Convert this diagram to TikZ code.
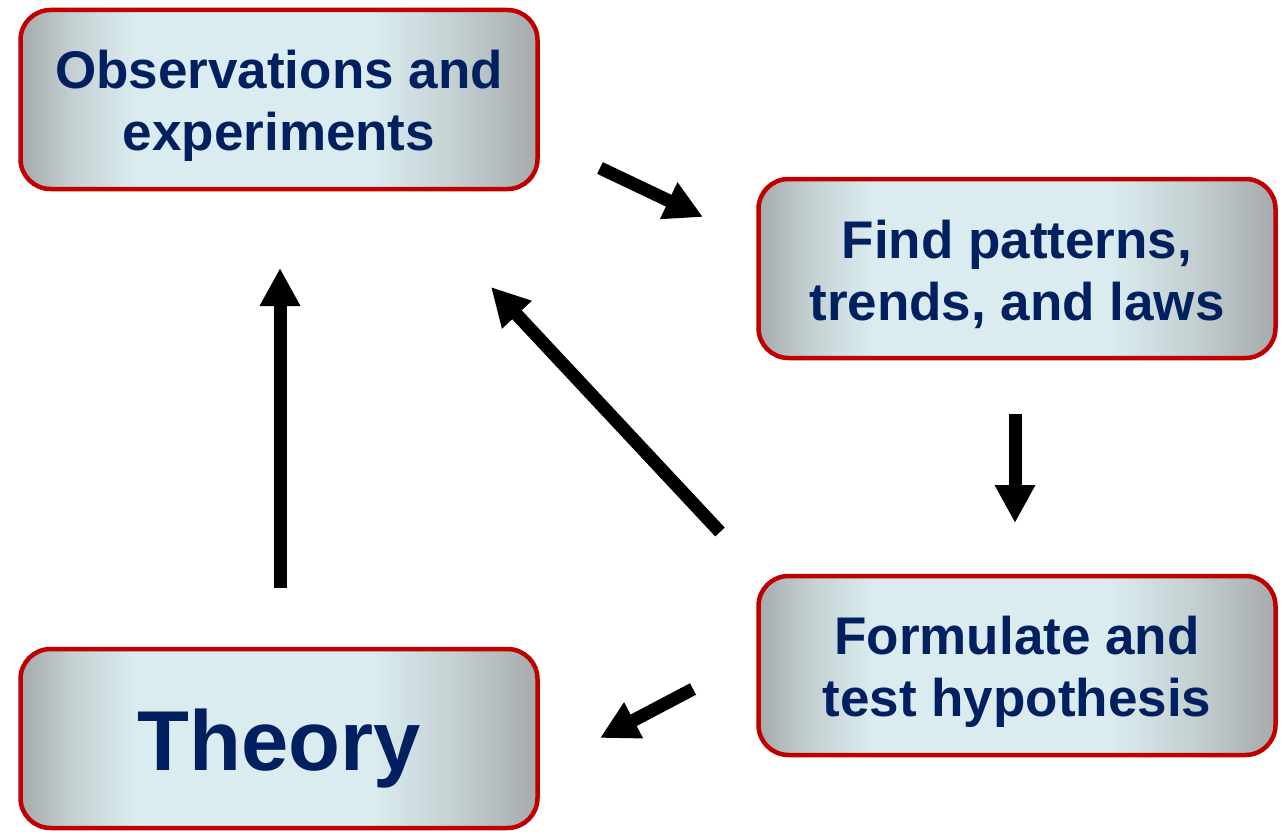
\documentclass[tikz,border=0pt]{standalone}
\usepackage{fontspec}
\setmainfont{Liberation Sans}
\usetikzlibrary{arrows.meta}
\definecolor{boxgray}{HTML}{A6AAAC}
\definecolor{boxmid}{HTML}{C4D0D2}
\definecolor{boxcyan}{HTML}{DAECEF}
\definecolor{boxred}{HTML}{C00000}
\definecolor{navy}{HTML}{002060}
\pgfdeclarehorizontalshading{boxshade}{100bp}{color(0bp)=(boxgray); color(25bp)=(boxgray); color(30bp)=(boxmid); color(36bp)=(boxcyan); color(59bp)=(boxcyan); color(67bp)=(boxmid); color(75bp)=(boxgray); color(100bp)=(boxgray)}
\tikzset{
  stepbox/.style={draw=boxred, line width=4.5pt, rounded corners=30pt, shading=boxshade,
    minimum width=517pt, minimum height=179pt, inner sep=0pt},
  steptext/.style={align=center, text=navy, inner sep=0pt,
    font=\bfseries\fontsize{53}{62}\selectfont},
  bigtext/.style={align=center, text=navy, inner sep=0pt,
    font=\bfseries\fontsize{85}{90}\selectfont},
  flowarrow/.style={line width=13pt, -{Triangle[length=38pt,width=38pt]}}
}
\begin{document}
\begin{tikzpicture}[x=1pt,y=-1pt]
\useasboundingbox (0,0) rectangle (1288,832);
\node[stepbox, label={[steptext, yshift=-6pt]center:Observations and\\experiments}] (obs) at (279,99.5) {};
\node[stepbox, label={[steptext, yshift=-6pt]center:Find patterns,\\trends, and laws}] (find) at (1017,268.5) {};
\node[stepbox, label={[steptext, yshift=-6pt]center:Formulate and\\test hypothesis}] (form) at (1017,665.5) {};
\node[stepbox, label={[bigtext, yshift=-10pt]center:Theory}] (theory) at (279,738.5) {};
\coordinate (a1s) at (600,168);
\coordinate (a1e) at (703,217);
\coordinate (a2s) at (1015,414);
\coordinate (a2e) at (1015,523);
\coordinate (a3s) at (693,689);
\coordinate (a3e) at (600,738);
\coordinate (a4s) at (720,532);
\coordinate (a4e) at (491,287);
\coordinate (a5s) at (280,588);
\coordinate (a5e) at (280,268);
\draw[flowarrow] (a1s) -- (a1e);
\draw[flowarrow] (a2s) -- (a2e);
\draw[flowarrow] (a3s) -- (a3e);
\draw[flowarrow] (a4s) -- (a4e);
\draw[flowarrow] (a5s) -- (a5e);
\end{tikzpicture}
\end{document}
